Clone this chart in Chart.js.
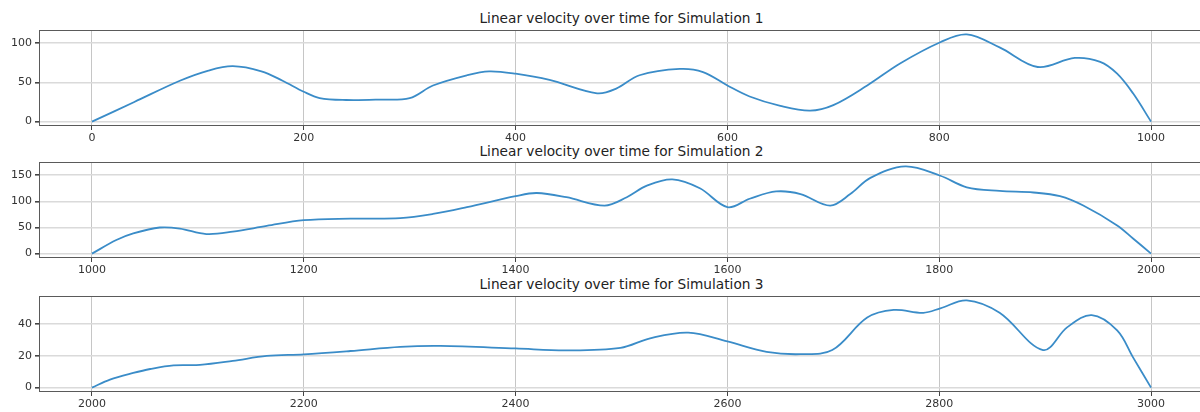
<!DOCTYPE html>
<html><head><meta charset="utf-8">
<script src="https://cdn.jsdelivr.net/npm/chart.js@4.4.1/dist/chart.umd.min.js"></script>
<style>
html,body{margin:0;padding:0;background:#fff;overflow:hidden;width:1200px;height:412px;}
.title{position:absolute;left:0;width:1243px;text-align:center;font:13.7px "DejaVu Sans";color:#222;line-height:15px;white-space:nowrap;}
canvas{position:absolute;left:0;}
</style></head><body>
<div class="title" style="top:11px">Linear velocity over time for Simulation 1</div>
<div class="title" style="top:144px">Linear velocity over time for Simulation 2</div>
<div class="title" style="top:277px">Linear velocity over time for Simulation 3</div>
<canvas id="c1" width="1204" height="116" style="top:30px"></canvas>
<canvas id="c2" width="1204" height="116" style="top:162px"></canvas>
<canvas id="c3" width="1204" height="116" style="top:296px"></canvas>
<script>
// ---- Simulation 1 ----
const time1 = [0, 40, 83, 110, 133, 160, 180, 200, 215, 240, 270, 300, 322, 354, 375, 400, 432, 477, 495, 517, 555, 577, 600, 621, 650, 678, 700, 732, 763, 801, 826, 857, 893, 928, 952, 968, 983, 1000];
const vel1  = [0, 25, 52, 65, 70.5, 64, 52, 38, 30, 27.5, 28, 30, 46, 59, 64, 61, 53, 36, 42, 59, 67, 63, 46, 32, 20, 14, 21, 46, 74, 101, 111, 94.5, 69.5, 81, 76, 61, 36, 0];
const xTicks1 = [0, 200, 400, 600, 800, 1000];
const yTicks1 = [0, 50, 100];

// ---- Simulation 2 ----
const time2 = [1000, 1023, 1039, 1064, 1083, 1108, 1133, 1165, 1200, 1244, 1291, 1322, 1354, 1400, 1420, 1448, 1484, 1505, 1524, 1548, 1574, 1600, 1621, 1646, 1669, 1697, 1716, 1735, 1768, 1801, 1826, 1857, 1889, 1914, 1936, 1968, 1983, 2000];
const vel2  = [0, 26, 38.7, 50, 48, 37.5, 42, 53, 64, 67, 68, 76, 89, 110, 116, 108, 92, 108, 130, 142, 125, 89, 105, 119, 114, 92, 114, 145, 167, 149, 127, 120, 117, 110, 92, 54, 29, 0];
const xTicks2 = [1000, 1200, 1400, 1600, 1800, 2000];
const yTicks2 = [0, 50, 100, 150];

// ---- Simulation 3 ----
const time3 = [2000, 2017, 2039, 2055, 2077, 2102, 2133, 2165, 2200, 2244, 2291, 2329, 2400, 2448, 2499, 2527, 2563, 2600, 2637, 2669, 2699, 2732, 2757, 2785, 2801, 2826, 2857, 2898, 2921, 2944, 2968, 2983, 3000];
const vel3  = [0, 5, 9.2, 11.7, 14, 14.3, 16.8, 19.9, 20.9, 23, 25.6, 26.2, 24.6, 23.4, 25, 31, 34.5, 29, 22.5, 21, 23.6, 44, 48.8, 47, 49.8, 54.8, 47, 23.6, 38, 45.5, 35.9, 19, 0];
const xTicks3 = [2000, 2200, 2400, 2600, 2800, 3000];
const yTicks3 = [0, 20, 40];

const framePlugin = {
  id: 'frame',
  afterDraw(chart) {
    const {ctx, chartArea: a} = chart;
    ctx.save();
    ctx.strokeStyle = '#5a5a5a';
    ctx.lineWidth = 1;
    ctx.strokeRect(Math.round(a.left) + 0.5, Math.round(a.top) + 0.5, Math.round(a.right - a.left) - 1, Math.round(a.bottom - a.top) - 1);
    ctx.restore();
  }
};

function makeChart(id, t, v, xTicks, yTicks) {
  const pts = t.map((x, i) => ({x: x, y: v[i]}));
  const xmin = Math.min(...t), xmax = Math.max(...t);
  const ymin = Math.min(...v), ymax = Math.max(...v);
  const xm = (xmax - xmin) * 0.05, ym = (ymax - ymin) * 0.05;
  const tickFont = {family: 'DejaVu Sans', size: 11};
  return new Chart(document.getElementById(id), {
    type: 'line',
    data: {datasets: [{data: pts, borderColor: '#3a8cc8', borderWidth: 1.8, pointRadius: 0,
      tension: 0.35, fill: false}]},
    options: {
      responsive: false, animation: false, devicePixelRatio: 1,
      layout: {padding: 0},
      plugins: {legend: {display: false}, tooltip: {enabled: false}, title: {display: false}},
      scales: {
        x: {
          type: 'linear', min: xmin - xm, max: xmax + xm,
          afterBuildTicks: s => { s.ticks = xTicks.map(value => ({value})); },
          afterFit: s => { s.height = 20; s.paddingLeft = 0; s.paddingRight = 0; },
          grid: {color: '#c6c6c6', lineWidth: 1, tickLength: 4, tickColor: '#444'},
          border: {display: false},
          ticks: {font: tickFont, color: '#333', padding: 2, maxRotation: 0, autoSkip: false,
                  callback: value => String(value)}
        },
        y: {
          type: 'linear', min: ymin - ym, max: ymax + ym,
          afterBuildTicks: s => { s.ticks = yTicks.map(value => ({value})); },
          afterFit: s => { s.width = 39; s.paddingTop = 0; s.paddingBottom = 0; },
          grid: {color: '#dadada', lineWidth: 1.6, tickLength: 4, tickColor: '#444'},
          border: {display: false},
          ticks: {font: tickFont, color: '#333', padding: 3, autoSkip: false,
                  callback: value => String(value)}
        }
      }
    },
    plugins: [framePlugin]
  });
}

makeChart('c1', time1, vel1, xTicks1, yTicks1);
makeChart('c2', time2, vel2, xTicks2, yTicks2);
makeChart('c3', time3, vel3, xTicks3, yTicks3);
</script>
</body></html>
